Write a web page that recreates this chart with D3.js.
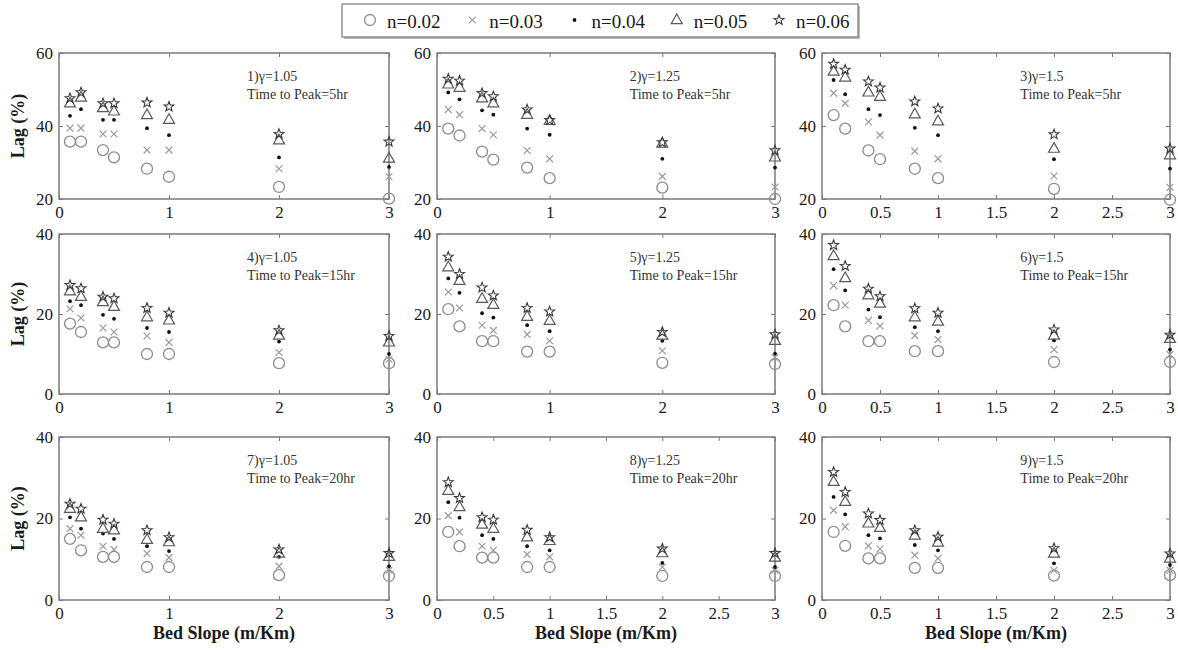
<!DOCTYPE html>
<html><head><meta charset="utf-8">
<script src="https://cdn.jsdelivr.net/npm/d3@7"></script>
<style>
body{margin:0;background:#fff;}
svg{display:block;}
svg text{font-family:'Liberation Serif','DejaVu Serif',serif !important;}
</style>
</head><body>
<svg id="chart" width="1178" height="650"></svg>
<script>
// ---------- data ----------
const slopes = [0.1, 0.2, 0.4, 0.5, 0.8, 1, 2, 3];
const seriesNames = ["n=0.02", "n=0.03", "n=0.04", "n=0.05", "n=0.06"];
const gammaLabels = ["1.05", "1.25", "1.5"];
const peakTimes = ["5hr", "15hr", "20hr"];
const yDomainRow1 = [20, 60];
const yDomainRow23 = [0, 40];
const yTicksRow1 = [20, 40, 60];
const yTicksRow23 = [0, 20, 40];
const xTicksWhole = [0, 1, 2, 3];
const xTicksHalf = [0, 0.5, 1, 1.5, 2, 2.5, 3];

// each panel: rows = n=0.02, 0.03, 0.04, 0.05, 0.06 ; columns = slopes
const lag1 = [
  [35.7, 35.7, 33.4, 31.4, 28.3, 26.1, 23.3, 20.1],
  [39.4, 39.4, 37.8, 37.8, 33.4, 33.4, 28.3, 26.1],
  [42.8, 44.6, 41.7, 41.7, 39.4, 37.5, 31.4, 28.8],
  [46.2, 47.8, 44.9, 44.0, 43.0, 41.7, 36.1, 31.1],
  [47.6, 49.2, 46.2, 46.2, 46.4, 45.3, 37.8, 35.7]
];
const lag2 = [
  [39.3, 37.4, 33.0, 30.8, 28.6, 25.7, 23.1, 20.0],
  [44.5, 43.1, 39.3, 37.6, 33.3, 31.0, 26.2, 23.3],
  [49.2, 47.3, 44.3, 43.1, 39.3, 37.6, 31.0, 28.6],
  [51.4, 50.5, 47.6, 46.2, 43.1, 41.4, 35.2, 31.4],
  [52.9, 52.4, 49.0, 48.1, 44.5, 41.6, 35.5, 33.3]
];
const lag3 = [
  [43.0, 39.3, 33.3, 30.9, 28.3, 25.7, 22.8, 19.8],
  [49.0, 46.2, 41.1, 37.5, 33.1, 31.0, 26.3, 23.2],
  [52.6, 48.7, 44.6, 43.0, 39.5, 37.5, 30.9, 28.3],
  [54.9, 53.3, 49.2, 48.0, 43.2, 41.3, 33.8, 32.0],
  [57.0, 55.4, 52.2, 50.5, 46.7, 44.8, 37.7, 33.8]
];
const lag4 = [
  [17.6, 15.5, 12.9, 12.9, 10.0, 10.0, 7.7, 7.7],
  [21.3, 19.0, 16.5, 15.5, 14.5, 12.9, 10.4, 8.7],
  [23.2, 22.2, 19.8, 18.8, 16.5, 15.5, 13.1, 10.0],
  [25.7, 24.3, 23.0, 21.8, 19.2, 18.4, 14.6, 12.9],
  [27.2, 26.4, 24.3, 23.9, 21.5, 20.3, 15.9, 14.5]
];
const lag5 = [
  [21.2, 16.9, 13.2, 13.2, 10.6, 10.6, 7.8, 7.5],
  [25.5, 21.5, 17.2, 15.9, 14.9, 13.3, 10.8, 9.1],
  [28.9, 25.3, 20.2, 19.1, 17.2, 15.7, 13.3, 10.1],
  [31.7, 28.3, 23.8, 22.3, 19.3, 18.3, 14.6, 13.3],
  [34.3, 30.0, 26.6, 24.6, 21.5, 20.6, 15.5, 14.9]
];
const lag6 = [
  [22.2, 16.9, 13.2, 13.2, 10.7, 10.7, 8.0, 8.0],
  [27.1, 22.2, 18.4, 17.0, 14.6, 13.6, 11.1, 9.9],
  [31.2, 25.9, 21.1, 19.2, 16.7, 15.7, 13.4, 11.1],
  [34.5, 29.0, 24.7, 22.6, 19.2, 18.1, 14.6, 13.8],
  [37.2, 32.0, 26.3, 24.4, 21.4, 20.3, 16.1, 14.8]
];
const lag7 = [
  [15.0, 12.2, 10.6, 10.6, 8.1, 8.1, 6.1, 5.9],
  [17.5, 15.9, 13.2, 12.4, 11.4, 10.4, 8.3, 7.3],
  [20.3, 17.5, 16.3, 15.0, 13.2, 12.0, 10.6, 8.3],
  [22.4, 20.3, 17.5, 17.1, 14.8, 14.2, 11.4, 10.6],
  [23.6, 22.4, 19.7, 18.7, 17.1, 15.4, 12.4, 11.5]
];
const lag8 = [
  [16.7, 13.2, 10.4, 10.4, 8.1, 8.1, 5.9, 5.9],
  [20.7, 16.7, 13.2, 12.2, 11.2, 10.6, 8.1, 7.3],
  [24.0, 20.2, 15.9, 15.0, 13.2, 12.2, 9.1, 8.1],
  [26.8, 22.8, 18.5, 17.5, 15.4, 14.5, 11.5, 10.4],
  [28.9, 25.0, 20.3, 19.7, 17.2, 15.4, 12.6, 11.5]
];
const lag9 = [
  [16.7, 13.3, 10.2, 10.2, 7.9, 7.9, 6.0, 6.1],
  [22.0, 18.0, 13.3, 12.5, 11.0, 10.2, 7.3, 7.3],
  [25.3, 21.0, 15.9, 15.1, 13.5, 12.2, 9.0, 8.6],
  [29.0, 24.1, 18.8, 17.7, 15.8, 14.1, 11.4, 10.2],
  [31.4, 26.5, 21.2, 19.6, 17.1, 15.5, 12.7, 11.4]
];
const panelData = [lag1, lag2, lag3, lag4, lag5, lag6, lag7, lag8, lag9];
const panelHalfTicks = [false, false, true, false, false, true, false, true, true];

// ---------- layout ----------
const colX = [[59, 389], [437, 775], [822, 1170]];
const rowY = [[53, 199], [234, 394], [437, 600]];

const svg = d3.select("#chart");
const frameColor = "#7a7a7a";
const textColor = "#1a1a1a";

function starPath(R, r) {
  const pts = [];
  for (let i = 0; i < 10; i++) {
    const a = -Math.PI / 2 + i * Math.PI / 5;
    const rad = i % 2 === 0 ? R : r;
    pts.push([rad * Math.cos(a), rad * Math.sin(a)]);
  }
  return "M" + pts.map(p => p[0].toFixed(2) + "," + p[1].toFixed(2)).join("L") + "Z";
}
const markers = [
  g => g.append("circle").attr("r", 5.5).attr("fill", "none").attr("stroke", "#8c8c8c").attr("stroke-width", 1.3),
  g => g.append("path").attr("d", "M-3.4,-3.4L3.4,3.4M-3.4,3.4L3.4,-3.4").attr("fill", "none").attr("stroke", "#9a9a9a").attr("stroke-width", 1.2),
  g => g.append("circle").attr("r", 1.9).attr("fill", "#111"),
  g => g.append("path").attr("d", "M0,-6L5.5,3.6L-5.5,3.6Z").attr("fill", "none").attr("stroke", "#5a5a5a").attr("stroke-width", 1.2),
  g => g.append("path").attr("d", starPath(5.2, 2.2)).attr("fill", "none").attr("stroke", "#3a3a3a").attr("stroke-width", 1.1)
];

panelData.forEach((data, i) => {
  const r = Math.floor(i / 3), c = i % 3;
  const [x0, x1] = colX[c];
  const [y0, y1] = rowY[r];
  const x = d3.scaleLinear().domain([0, 3]).range([x0, x1]);
  const y = d3.scaleLinear().domain(r === 0 ? yDomainRow1 : yDomainRow23).range([y1, y0]);
  const xt = panelHalfTicks[i] ? xTicksHalf : xTicksWhole;
  const yt = r === 0 ? yTicksRow1 : yTicksRow23;
  const g = svg.append("g");

  g.append("rect").attr("x", x0).attr("y", y0).attr("width", x1 - x0).attr("height", y1 - y0)
    .attr("fill", "none").attr("stroke", frameColor).attr("stroke-width", 1.5);

  const xb = d3.axisBottom(x).tickValues(xt).tickSize(-4).tickPadding(7).tickFormat(d3.format("~g"));
  const gx = g.append("g").attr("transform", `translate(0,${y1})`).call(xb);
  const xtop = d3.axisTop(x).tickValues(xt).tickSize(-4).tickFormat("");
  const gxt = g.append("g").attr("transform", `translate(0,${y0})`).call(xtop);
  const yl = d3.axisLeft(y).tickValues(yt).tickSize(-4).tickPadding(6);
  const gy = g.append("g").attr("transform", `translate(${x0},0)`).call(yl);
  const yr = d3.axisRight(y).tickValues(yt).tickSize(-4).tickFormat("");
  const gyr = g.append("g").attr("transform", `translate(${x1},0)`).call(yr);
  [gx, gxt, gy, gyr].forEach(a => {
    a.attr("font-family", null);
    a.select(".domain").remove();
    a.selectAll(".tick line").attr("stroke", frameColor).attr("stroke-width", 1);
    a.selectAll(".tick text").attr("font-size", 17).attr("fill", textColor);
  });
  gy.selectAll(".tick text").attr("dy", "0.32em");

  data.forEach((vals, s) => {
    vals.forEach((v, k) => {
      const m = g.append("g").attr("transform", `translate(${x(slopes[k])},${y(v)})`);
      markers[s](m);
    });
  });

  const ax = x0 + 0.57 * (x1 - x0);
  g.append("text").attr("x", ax).attr("y", y0 + 23).attr("dominant-baseline", "central")
    .attr("font-size", 14).attr("fill", "#333").text(`${i + 1})γ=${gammaLabels[c]}`);
  g.append("text").attr("x", ax).attr("y", y0 + 41).attr("dominant-baseline", "central")
    .attr("font-size", 14).attr("fill", "#333").text(`Time to Peak=${peakTimes[r]}`);

  if (c === 0) {
    g.append("text").attr("transform", `translate(18,${(y0 + y1) / 2}) rotate(-90)`)
      .attr("text-anchor", "middle").attr("dominant-baseline", "central")
      .attr("font-size", 18).attr("font-weight", "bold").attr("fill", textColor).text("Lag (%)");
  }
  if (r === 2) {
    g.append("text").attr("x", (x0 + x1) / 2).attr("y", 633)
      .attr("text-anchor", "middle").attr("dominant-baseline", "central")
      .attr("font-size", 18).attr("font-weight", "bold").attr("fill", textColor).text("Bed Slope (m/Km)");
  }
});

// ---------- legend ----------
const lg = svg.append("g");
lg.append("rect").attr("x", 344).attr("y", 6).attr("width", 516).attr("height", 33).attr("fill", "#bbb");
lg.append("rect").attr("x", 342).attr("y", 4).attr("width", 516).attr("height", 33)
  .attr("fill", "#fff").attr("stroke", "#777").attr("stroke-width", 1.2);
const legX = d3.scalePoint().domain(seriesNames).range([370, 779]);
seriesNames.forEach((name, s) => {
  const cx = legX(name);
  const m = lg.append("g").attr("transform", `translate(${cx},20)`);
  markers[s](m);
  lg.append("text").attr("x", cx + 17).attr("y", 21).attr("dominant-baseline", "central")
    .attr("font-size", 19).attr("fill", textColor).text(name);
});
</script>
</body></html>
